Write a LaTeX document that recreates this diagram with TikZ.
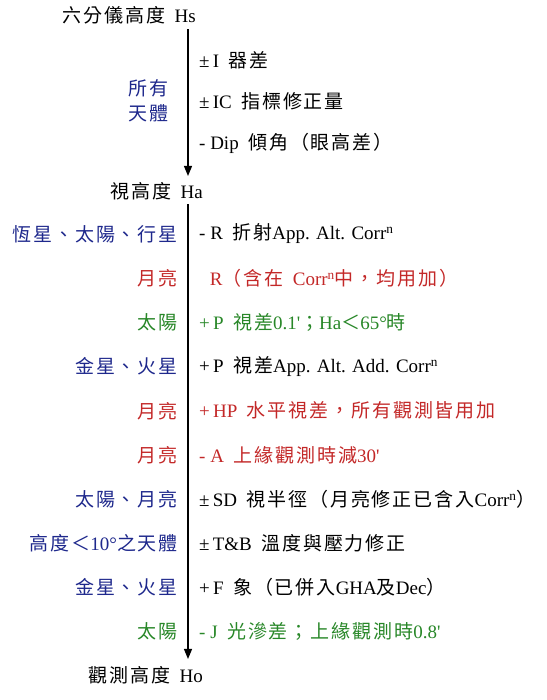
\documentclass[tikz,border=0pt]{standalone}
\usepackage{fontspec}
\setmainfont{Liberation Serif}
\newfontfamily\cjk[LetterSpace=10]{Noto Sans CJK TC}
\usetikzlibrary{arrows.meta}

\newcommand{\zh}[1]{{\cjk #1}}
\newcommand{\gap}{\hspace{0.5em}}
\newcommand{\corrn}{Corr\textsuperscript{n}}

\definecolor{bodyblue}{RGB}{30,40,140}
\definecolor{bodyred}{RGB}{195,40,40}
\definecolor{bodygreen}{RGB}{40,135,40}

\tikzset{
	heading/.style={anchor=east, inner sep=0pt},
	who/.style={anchor=east, inner sep=0pt},
	what/.style={anchor=west, inner sep=0pt},
	flow/.style={line width=1.1pt, -{Triangle[length=10pt,width=8pt]}},
}

\begin{document}
\begin{tikzpicture}[x=1pt, y=-1pt, font=\fontsize{19}{23}\selectfont]
\useasboundingbox (0,0) rectangle (546,700);
\coordinate (axis) at (188,0);

% altitudes
\node[heading] (hs) at (196,15) {\zh{六分儀高度}\gap Hs};
\node[heading] (ha) at (203,191) {\zh{視高度}\gap Ha};
\node[heading] (ho) at (203,675) {\zh{觀測高度}\gap Ho};

% Hs to Ha
\node[who, align=right, text=bodyblue, font=\fontsize{19}{25}\selectfont] (all) at (169,101) {\zh{所有}\\\zh{天體}};
\node[what] (ie) at (199,60) {±\,I\gap\zh{器差}};
\node[what] (ic) at (199,101) {±\,IC\gap\zh{指標修正量}};
\node[what] (dip) at (199,143) {- Dip\gap\zh{傾角（眼高差）}};

% Ha to Ho
\foreach \who/\wtint/\what/\ttint [count=\i] in {
	{\zh{恆星、太陽、行星}}/bodyblue/{- R\gap\zh{折射}App. Alt. \corrn}/black,
	{\zh{月亮}}/bodyred/{\phantom{+}R\zh{（含在}\gap\corrn\zh{中，均用加）}}/bodyred,
	{\zh{太陽}}/bodygreen/{+\,P\gap\zh{視差}0.1\textquotesingle\zh{；}Ha\zh{＜}65°\zh{時}}/bodygreen,
	{\zh{金星、火星}}/bodyblue/{+\,P\gap\zh{視差}App. Alt. Add. \corrn}/black,
	{\zh{月亮}}/bodyred/{+\,HP\gap\zh{水平視差，所有觀測皆用加}}/bodyred,
	{\zh{月亮}}/bodyred/{- A\gap\zh{上緣觀測時減}30\textquotesingle}/bodyred,
	{\zh{太陽、月亮}}/bodyblue/{±\,SD\gap\zh{視半徑（月亮修正已含入}\corrn\zh{）}}/black,
	{\zh{高度＜}10°\zh{之天體}}/bodyblue/{±\,T\&B\gap\zh{溫度與壓力修正}}/black,
	{\zh{金星、火星}}/bodyblue/{+\,F\gap\zh{象（已併入}GHA\zh{及}Dec\zh{）}}/black,
	{\zh{太陽}}/bodygreen/{- J\gap\zh{光滲差；上緣觀測時}0.8\textquotesingle}/bodygreen}{
	\node[who, text=\wtint] (who\i) at (178,{234+44.2*(\i-1)}) {\who};
	\node[what, text=\ttint] (what\i) at (199,{234+44.2*(\i-1)}) {\what};
}

\draw[flow, shorten <=5pt, shorten >=6pt] (hs.south -| axis) -- (ha.north -| axis);
\draw[flow, shorten <=4pt, shorten >=7pt] (ha.south -| axis) -- (ho.north -| axis);
\end{tikzpicture}
\end{document}
